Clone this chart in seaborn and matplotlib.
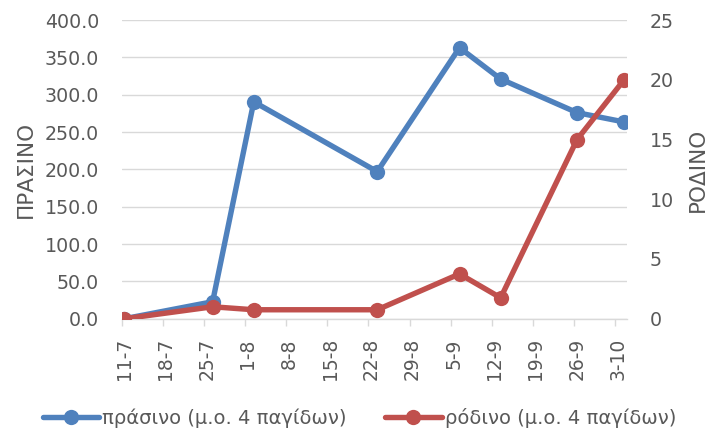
import numpy as np
import pandas as pd
import matplotlib
matplotlib.use('Agg')
import matplotlib.pyplot as plt
import matplotlib.dates as mdates
import seaborn as sns

# sampling dates (day-month) and mean of 4 traps
dates = ['2021-07-11', '2021-07-26', '2021-08-02', '2021-08-23',
         '2021-09-06', '2021-09-13', '2021-09-26', '2021-10-04']
green = [0.0, 22.75, 290.5, 197.0, 363.0, 321.0, 276.0, 263.5]
pink = [0.0, 1.0, 0.75, 0.75, 3.75, 1.75, 15.0, 20.0]
green_label = 'πράσινο (μ.ο. 4 παγίδων)'
pink_label = 'ρόδινο (μ.ο. 4 παγίδων)'
week_ticks = pd.date_range('2021-07-11', '2021-10-03', freq='7D')

df = pd.DataFrame({'date': pd.to_datetime(dates), 'green': green, 'pink': pink})

sns.set_theme(style='white')
plt.rcParams['font.family'] = ['DejaVu Sans']
txt = '#595959'
gridc = '#D9D9D9'
blue = '#4F81BD'
red = '#C0504D'

fig = plt.figure(figsize=(7.09, 4.36), dpi=100)
ax = fig.add_axes([0.1714, 0.269, 0.713, 0.685])
ax2 = ax.twinx()

sns.lineplot(data=df, x='date', y='green', ax=ax, color=blue, linewidth=3.9,
             marker='o', markersize=11, markeredgewidth=0, label=green_label)
sns.lineplot(data=df, x='date', y='pink', ax=ax2, color=red, linewidth=3.9,
             marker='o', markersize=11, markeredgewidth=0, label=pink_label)

h1, l1 = ax.get_legend_handles_labels()
h2, l2 = ax2.get_legend_handles_labels()
ax.get_legend().remove()
ax2.get_legend().remove()

x0 = mdates.date2num(pd.Timestamp('2021-07-11'))
ax.set_xlim(x0 - 0.5, x0 + 85.5)

ax.set_ylim(0, 400)
ax.set_yticks(np.arange(0, 401, 50))
ax.set_yticklabels([f'{v:.1f}' for v in np.arange(0, 401, 50)])
ax2.set_ylim(0, 25)
ax2.set_yticks(np.arange(0, 26, 5))

ax.set_xticks(week_ticks)
ax.set_xticklabels([f'{d.day}-{d.month}' for d in week_ticks], rotation=90)
ax.set_xticks(week_ticks - pd.Timedelta(hours=12), minor=True)

ax.grid(axis='y', color=gridc, linewidth=1)
ax.grid(axis='x', visible=False)
ax2.grid(False)

for a in (ax, ax2):
    for s in ('left', 'right', 'top', 'bottom'):
        a.spines[s].set_visible(False)
ax.spines['bottom'].set_visible(True)
ax.spines['bottom'].set_color(gridc)
ax.spines['bottom'].set_linewidth(1)

ax.tick_params(axis='x', which='major', length=0, pad=14, labelsize=13.5, labelcolor=txt)
ax.tick_params(axis='x', which='minor', bottom=True, length=5, width=1, color=gridc)
ax.tick_params(axis='y', length=0, pad=16, labelsize=13.7, labelcolor=txt)
ax2.tick_params(axis='y', length=0, pad=16.5, labelsize=13.7, labelcolor=txt)

ax.set_xlabel('')
ax.set_ylabel('ΠΡΑΣΙΝΟ', fontsize=15.5, color=txt)
ax.yaxis.set_label_coords(-0.170, 0.5)
ax2.set_ylabel('ΡΟΔΙΝΟ', fontsize=15.5, color=txt)
ax2.yaxis.set_label_coords(1.121, 0.5)

leg = fig.legend(h1 + h2, l1 + l2, loc='center', bbox_to_anchor=(0.5067, 0.041),
                 ncol=2, frameon=False, handlelength=2.9, handletextpad=0.15,
                 columnspacing=2.0, fontsize=14)
for t in leg.get_texts():
    t.set_color(txt)

fig.savefig('out.png', dpi=100)
